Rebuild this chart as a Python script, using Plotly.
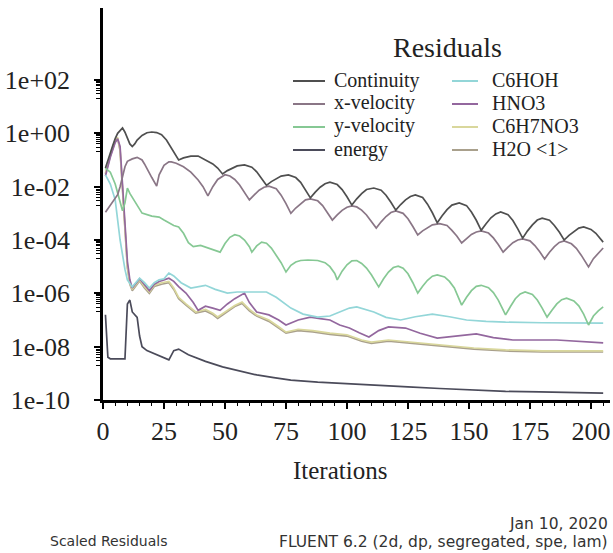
import plotly.graph_objects as go

# ---------------- data ----------------
continuity_it = [1, 2, 3, 4, 5, 6, 7, 8, 9, 10, 11, 12, 13, 14, 16, 18, 20, 22, 24, 26, 28, 30, 31, 33, 36, 39, 42, 45, 47,
                 49, 51, 53, 55, 58, 61, 63, 65, 67, 69, 71, 73, 76, 79, 81, 83, 85, 87, 89, 91, 93, 96, 98, 100, 102,
                 104, 106, 108, 111, 114, 116, 118, 120, 122, 124, 126, 128, 131, 133, 135, 137, 139, 141, 143, 146,
                 149, 151, 153, 155, 157, 159, 161, 163, 166, 168, 170, 172, 174, 176, 178, 180, 183, 185, 187, 189,
                 191, 193, 195, 197, 200, 202, 204, 205]
continuity_res = [5.0e-2, 1.0e-1, 2.0e-1, 3.5e-1, 6.3e-1, 1.0, 1.26, 1.6, 1.1, 0.63, 0.40, 0.32, 0.40, 0.56, 0.83, 1.05,
                  1.12, 1.07, 0.89, 0.56, 0.28, 0.13, 0.10, 0.12, 0.14, 0.14, 0.10, 7.1e-2, 5.0e-2,
                  3.0e-2, 4.0e-2, 5.0e-2, 6.0e-2, 6.5e-2, 5.4e-2, 3.6e-2, 2.1e-2, 1.12e-2, 1.55e-2, 2.0e-2, 2.5e-2,
                  2.75e-2, 2.2e-2, 1.45e-2, 7.8e-3, 3.8e-3, 6.2e-3, 9.5e-3, 1.29e-2, 1.48e-2, 1.2e-2, 7.8e-3, 4.2e-3,
                  2.04e-3, 3.5e-3, 5.5e-3, 7.8e-3, 8.9e-3, 7.4e-3, 4.8e-3, 2.6e-3, 1.32e-3, 2.14e-3, 3.2e-3, 4.3e-3,
                  4.9e-3, 3.9e-3, 2.2e-3, 1.05e-3, 4.4e-4, 8.1e-4, 1.38e-3, 2.04e-3, 2.45e-3, 1.95e-3, 1.12e-3,
                  5.5e-4, 2.3e-4, 4.1e-4, 6.8e-4, 9.5e-4, 1.12e-3, 8.9e-4, 5.4e-4, 2.6e-4, 1.17e-4, 2.2e-4, 3.7e-4,
                  5.6e-4, 6.6e-4, 5.5e-4, 3.5e-4, 2.0e-4, 1.0e-4, 1.5e-4, 2.1e-4, 2.8e-4, 3.1e-4, 2.5e-4, 1.78e-4,
                  1.12e-4, 8.3e-5]

xvel_it = [1, 3, 5, 6, 7, 8, 9, 10, 12, 14, 16, 17, 18, 20, 22, 23, 25, 27, 28, 30, 33, 36, 39, 41, 43, 45, 47, 50, 52,
           54, 56, 58, 60, 62, 64, 66, 68, 71, 73, 75, 77, 79, 81, 83, 85, 88, 90, 92, 94, 96, 98, 100, 102, 104,
           106, 108, 110, 112, 114, 116, 118, 120, 123, 125, 127, 129, 131, 133, 135, 138, 141, 143, 145, 147, 149,
           151, 153, 155, 158, 160, 162, 164, 166, 168, 170, 172, 175, 177, 179, 181, 183, 185, 187, 189, 192, 194,
           196, 198, 199, 201, 203, 205]
xvel_res = [1.1e-3, 2.0e-3, 3.5e-3, 5.0e-3, 1.0e-2, 2.5e-2, 5.6e-2, 8.9e-2, 0.11, 0.126, 0.10, 7.1e-2, 5.0e-2, 2.2e-2,
            1.05e-2, 2.8e-2, 6.3e-2, 8.5e-2, 8.5e-2, 7.6e-2, 5.6e-2, 3.5e-2, 1.78e-2, 1.0e-2, 4.5e-3, 1.0e-2,
            1.86e-2, 2.8e-2, 2.5e-2, 1.86e-2, 1.15e-2, 6.2e-3, 3.2e-3, 4.9e-3, 7.4e-3, 9.5e-3, 1.05e-2, 8.3e-3,
            4.8e-3, 2.3e-3, 1.0e-3, 1.58e-3, 2.3e-3, 3.2e-3, 3.5e-3, 2.95e-3, 1.95e-3, 1.1e-3, 5.6e-4, 8.7e-4,
            1.29e-3, 1.7e-3, 1.9e-3, 1.74e-3, 1.32e-3, 8.7e-4, 5.1e-4, 2.8e-4, 4.8e-4, 7.6e-4, 1.07e-3, 1.23e-3,
            1.0e-3, 6.3e-4, 3.2e-4, 1.55e-4, 2.2e-4, 2.95e-4, 3.7e-4, 4.1e-4, 3.5e-4, 2.3e-4, 1.41e-4, 7.8e-5,
            1.15e-4, 1.62e-4, 2.0e-4, 2.2e-4, 1.82e-4, 1.2e-4, 6.8e-5, 3.5e-5, 5.4e-5, 7.9e-5, 1.0e-4, 1.1e-4,
            9.3e-5, 6.2e-5, 3.6e-5, 1.95e-5, 3.5e-5, 5.6e-5, 8.1e-5, 9.3e-5, 7.2e-5, 4.9e-5, 2.7e-5, 1.41e-5,
            9.8e-6, 2.0e-5, 3.2e-5, 5.0e-5]

yvel_it = [1, 3, 5, 7, 8, 9, 10, 11, 13, 16, 20, 23, 25, 27, 29, 31, 33, 35, 37, 40, 43, 46, 48, 50, 52, 54, 56, 58, 60,
           61, 63, 65, 67, 69, 71, 73, 75, 77, 79, 81, 84, 88, 91, 93, 95, 96, 98, 100, 102, 104, 106, 108, 110, 113,
           115, 117, 119, 121, 123, 125, 127, 129, 131, 133, 135, 137, 140, 142, 144, 147, 149, 151, 153, 155, 158,
           160, 162, 165, 167, 169, 171, 173, 176, 178, 180, 182, 184, 186, 188, 190, 193, 195, 197, 199, 201, 203,
           205]
yvel_res = [5.0e-2, 3.5e-2, 1.26e-2, 2.5e-3, 1.26e-3, 2.5e-3, 8.9e-3, 5.6e-3, 2.8e-3, 1.02e-3, 7.9e-4, 7.2e-4, 5.6e-4,
            4.4e-4, 3.5e-4, 3.1e-4, 1.78e-4, 7.9e-5, 5.6e-5, 6.3e-5, 5.0e-5, 4.0e-5, 3.5e-5, 7.4e-5, 1.26e-4,
            1.58e-4, 1.41e-4, 1.0e-4, 5.6e-5, 3.5e-5, 6.0e-5, 8.3e-5, 7.6e-5, 5.0e-5, 2.8e-5, 1.41e-5, 6.3e-6,
            1.12e-5, 1.5e-5, 1.7e-5, 1.78e-5, 1.7e-5, 1.41e-5, 1.0e-5, 5.6e-6, 3.2e-6, 6.8e-6, 1.17e-5, 1.66e-5,
            1.7e-5, 1.32e-5, 8.9e-6, 5.0e-6, 1.74e-6, 3.5e-6, 6.3e-6, 9.3e-6, 1.05e-5, 8.7e-6, 5.4e-6, 2.5e-6,
            1.02e-6, 1.86e-6, 3.1e-6, 4.4e-6, 4.9e-6, 4.1e-6, 2.8e-6, 1.58e-6, 3.6e-7, 7.1e-7, 1.26e-6, 1.82e-6,
            2.0e-6, 1.62e-6, 1.07e-6, 5.6e-7, 1.55e-7, 3.2e-7, 6.3e-7, 9.5e-7, 1.12e-6, 9.1e-7, 5.6e-7, 2.8e-7,
            1.29e-7, 2.3e-7, 4.0e-7, 5.8e-7, 6.6e-7, 5.2e-7, 3.4e-7, 1.66e-7, 6.5e-8, 1.41e-7, 2.2e-7, 3.1e-7]

energy_it = [1, 2, 3, 6, 9, 10, 11, 12, 14, 15, 16, 18, 22, 26, 27, 29, 31, 35, 42, 49, 56, 63, 70, 77, 88, 101, 112,
             125, 138, 152, 165, 179, 192, 205]
energy_res = [1.58e-7, 4.0e-9, 3.5e-9, 3.5e-9, 3.5e-9, 4.0e-7, 5.6e-7, 2.0e-7, 1.26e-7, 2.5e-8, 1.0e-8, 7.1e-9, 5.0e-9,
              3.7e-9, 3.2e-9, 7.1e-9, 8.1e-9, 5.0e-9, 2.8e-9, 1.74e-9, 1.2e-9, 8.7e-10, 6.9e-10, 5.6e-10, 4.7e-10,
              4.0e-10, 3.5e-10, 3.1e-10, 2.7e-10, 2.3e-10, 2.1e-10, 2.0e-10, 1.9e-10, 1.82e-10]

c6hoh_it = [1, 3, 5, 7, 9, 10, 12, 15, 17, 19, 21, 23, 25, 27, 29, 32, 36, 39, 42, 46, 51, 55, 59, 63, 67, 71, 77, 82, 88,
            93, 97, 101, 104, 107, 111, 116, 122, 128, 135, 142, 149, 157, 165, 180, 195, 205]
c6hoh_res = [2.75e-2, 1.26e-2, 3.2e-3, 1.0e-4, 7.9e-6, 3.2e-6, 1.74e-6, 3.7e-6, 2.5e-6, 1.58e-6, 2.5e-6, 3.2e-6, 3.5e-6,
             5.8e-6, 4.5e-6, 2.5e-6, 1.58e-6, 1.78e-6, 2.0e-6, 1.41e-6, 1.02e-6, 1.12e-6, 1.12e-6, 1.17e-6, 1.12e-6,
             7.1e-7, 2.8e-7, 1.66e-7, 1.29e-7, 1.41e-7, 2.0e-7, 2.8e-7, 3.1e-7, 2.6e-7, 2.0e-7, 1.26e-7, 1.0e-7,
             1.32e-7, 1.66e-7, 1.32e-7, 1.0e-7, 8.9e-8, 8.3e-8, 7.9e-8, 7.6e-8, 7.6e-8]

hno3_it = [1, 3, 5, 6, 7, 8, 9, 10, 11, 12, 15, 17, 19, 21, 23, 25, 27, 29, 31, 34, 37, 39, 42, 45, 48, 51, 54, 58, 60,
           63, 68, 72, 75, 80, 85, 89, 93, 97, 101, 105, 109, 113, 117, 124, 130, 137, 145, 153, 160, 168, 186, 205]
hno3_res = [2.5e-2, 0.126, 0.45, 0.63, 0.32, 1.58e-2, 3.2e-4, 1.58e-5, 3.2e-6, 1.58e-6, 3.5e-6, 2.0e-6, 1.26e-6, 2.2e-6,
            2.8e-6, 3.2e-6, 3.7e-6, 2.8e-6, 1.78e-6, 1.02e-6, 4.5e-7, 2.3e-7, 3.3e-7, 2.8e-7, 2.3e-7, 4.0e-7, 6.3e-7,
            1.02e-6, 4.5e-7, 2.0e-7, 1.55e-7, 1.0e-7, 6.5e-8, 1.0e-7, 1.29e-7, 1.12e-7, 1.0e-7, 6.5e-8, 5.0e-8,
            3.3e-8, 2.3e-8, 4.0e-8, 5.5e-8, 5.0e-8, 3.2e-8, 2.1e-8, 2.5e-8, 3.0e-8, 2.2e-8, 1.78e-8, 1.78e-8, 1.38e-8]

c6h7no3_it = [1, 3, 5, 6, 7, 8, 9, 10, 11, 12, 15, 17, 19, 21, 24, 27, 29, 31, 34, 38, 42, 45, 47, 51, 54, 57, 60, 63,
              68, 72, 75, 80, 86, 93, 100, 106, 110, 117, 123, 130, 140, 152, 165, 180, 205]
c6h7no3_res = [3.2e-2, 0.158, 0.56, 0.71, 0.25, 1.0e-2, 1.58e-4, 1.0e-5, 2.5e-6, 1.41e-6, 3.2e-6, 1.78e-6, 1.12e-6,
               2.0e-6, 2.5e-6, 2.8e-6, 1.58e-6, 7.1e-7, 4.0e-7, 2.0e-7, 2.5e-7, 1.78e-7, 1.29e-7, 2.2e-7, 3.5e-7,
               4.7e-7, 2.5e-7, 1.55e-7, 1.0e-7, 5.6e-8, 3.5e-8, 4.5e-8, 4.0e-8, 3.2e-8, 2.8e-8, 1.78e-8, 1.48e-8,
               1.78e-8, 1.58e-8, 1.38e-8, 1.12e-8, 8.9e-9, 7.6e-9, 6.9e-9, 6.9e-9]

h2o_it = [1, 3, 5, 6, 7, 8, 9, 10, 11, 12, 15, 17, 19, 21, 24, 27, 29, 31, 34, 38, 42, 45, 47, 51, 54, 57, 60, 63, 68,
          72, 75, 80, 86, 93, 100, 106, 110, 117, 123, 130, 140, 152, 165, 180, 205]
h2o_res = [3.0e-2, 0.14, 0.5, 0.63, 0.22, 8.9e-3, 1.4e-4, 8.9e-6, 2.2e-6, 1.26e-6, 2.9e-6, 1.6e-6, 1.0e-6, 1.8e-6,
           2.2e-6, 2.5e-6, 1.4e-6, 6.3e-7, 3.6e-7, 1.8e-7, 2.2e-7, 1.6e-7, 1.15e-7, 2.0e-7, 3.2e-7, 4.2e-7, 2.2e-7,
           1.4e-7, 8.9e-8, 5.0e-8, 3.2e-8, 4.0e-8, 3.6e-8, 2.9e-8, 2.5e-8, 1.6e-8, 1.32e-8, 1.6e-8, 1.41e-8,
           1.26e-8, 1.0e-8, 8.1e-9, 6.9e-9, 6.3e-9, 6.3e-9]

series_names = ["Continuity", "x-velocity", "y-velocity", "energy", "C6HOH", "HNO3", "C6H7NO3", "H2O <1>"]
series_colors = ["#4f4f4f", "#8a7686", "#86c894", "#4b4b5a", "#93d6d8", "#93679e", "#d9d79c", "#a9a08c"]

y_tick_exponents = [-10, -8, -6, -4, -2, 0, 2]
y_tick_labels = ["1e-10", "1e-08", "1e-06", "1e-04", "1e-02", "1e+00", "1e+02"]
x_tick_values = [0, 25, 50, 75, 100, 125, 150, 175, 200]

# ---------------- figure ----------------
W, H = 613, 553
ML, MR, MT, MB = 103, 3, 8, 153
PW, PH = W - ML - MR, H - MT - MB


def px(x):
    return (x - ML) / PW


def py(y):
    return (H - MB - y) / PH


data = {
    "Continuity": (continuity_it, continuity_res),
    "x-velocity": (xvel_it, xvel_res),
    "y-velocity": (yvel_it, yvel_res),
    "energy": (energy_it, energy_res),
    "C6HOH": (c6hoh_it, c6hoh_res),
    "HNO3": (hno3_it, hno3_res),
    "C6H7NO3": (c6h7no3_it, c6h7no3_res),
    "H2O <1>": (h2o_it, h2o_res),
}
color_of = dict(zip(series_names, series_colors))

fig = go.Figure()
draw_order = ["energy", "H2O <1>", "C6H7NO3", "HNO3", "C6HOH", "y-velocity", "x-velocity", "Continuity"]
for name in draw_order:
    xs, ys = data[name]
    fig.add_trace(go.Scatter(x=xs, y=ys, mode="lines", name=name, showlegend=False,
                             line=dict(color=color_of[name], width=1.7)))

y_tickvals = [10.0 ** e for e in y_tick_exponents]
y_minor = [m * 10.0 ** (e - 1) for e in y_tick_exponents if e > -10 for m in range(2, 10)]

serif = "Liberation Serif, Times New Roman, serif"
sans = "DejaVu Sans, Liberation Sans, Arial"
fig.update_layout(
    width=W, height=H,
    margin=dict(l=ML, r=MR, t=MT, b=MB),
    paper_bgcolor="white", plot_bgcolor="white",
    showlegend=False,
    xaxis=dict(range=[0, 207.8], showgrid=False, zeroline=False, showline=True, linecolor="black", linewidth=2.5,
               ticks="outside", ticklen=6, tickwidth=1.5, tickcolor="black",
               tickvals=x_tick_values, ticktext=[str(v) for v in x_tick_values],
               tickfont=dict(family=serif, size=26, color="#222"), ticklabelstandoff=0,
               minor=dict(dtick=5, tick0=0, ticks="outside", ticklen=3, tickwidth=1.2, tickcolor="black",
                          showgrid=False)),
    yaxis=dict(type="log", range=[-10, 4.7], showgrid=False, zeroline=False, showline=True, linecolor="black",
               linewidth=2.5, ticks="outside", ticklen=6, tickwidth=1.5, tickcolor="black",
               tickvals=y_tickvals, ticktext=y_tick_labels,
               tickfont=dict(family=serif, size=26, color="#222"), ticklabelstandoff=19,
               minor=dict(tickvals=y_minor, ticks="outside", ticklen=4, tickwidth=1.2, tickcolor="black",
                          showgrid=False)),
)

annotations = [
    dict(text="Iterations", x=px(340), y=py(470), font=dict(family=serif, size=25, color="#222")),
    dict(text="Residuals", x=px(447), y=py(47), font=dict(family=serif, size=28, color="#222")),
    dict(text="Scaled Residuals", x=px(108), y=py(541), font=dict(family=sans, size=14, color="#333")),
    dict(text="Jan 10, 2020", x=px(610), y=py(524), xanchor="right",
         font=dict(family=sans, size=15.5, color="#333")),
    dict(text="FLUENT 6.2 (2d, dp, segregated, spe, lam)", x=px(610), y=py(542), xanchor="right",
         font=dict(family=sans, size=15.5, color="#333")),
]

shapes = []
col_line = [(293, 325), (452, 478)]
col_text = [332, 490]
row_y = [80, 103, 126, 149]
for i, name in enumerate(series_names):
    c, r = divmod(i, 4)
    yy = row_y[r]
    x0, x1 = col_line[c]
    shapes.append(dict(type="line", xref="paper", yref="paper", x0=px(x0), x1=px(x1), y0=py(yy + 1), y1=py(yy + 1),
                       line=dict(color=series_colors[i], width=2)))
    annotations.append(dict(text=name.replace("<", "&lt;").replace(">", "&gt;"), x=px(col_text[c]), y=py(yy),
                            xanchor="left", font=dict(family=serif, size=20, color="#222")))

for a in annotations:
    a.setdefault("xanchor", "center")
    a.update(xref="paper", yref="paper", showarrow=False, yanchor="middle")

fig.update_layout(annotations=annotations, shapes=shapes)
fig.write_html("out.html")
